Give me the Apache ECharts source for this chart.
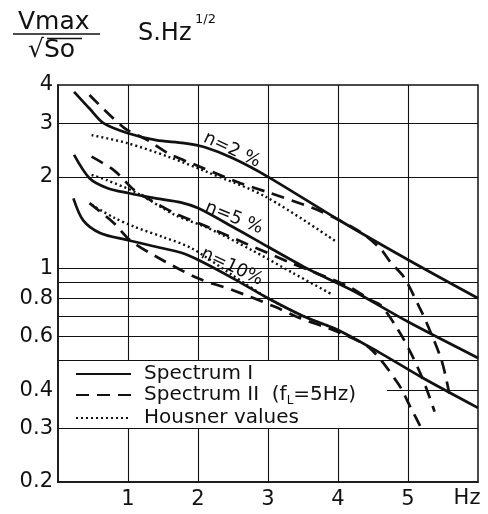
<!DOCTYPE html>
<html>
<head>
<meta charset="utf-8">
<script src="https://cdn.jsdelivr.net/npm/echarts@6/dist/echarts.min.js"></script>
<style>
html, body { margin: 0; padding: 0; background: #fff; }
#chart { width: 488px; height: 514px; }
</style>
</head>
<body>
<div id="chart"></div>
<script>
// axis ticks / grid lines
var xTicks = [1, 2, 3, 4, 5];
var yTicks = [0.2, 0.3, 0.4, 0.6, 0.8, 1, 2, 3, 4];
var yGridLines = [3, 2, 1, 0.9, 0.8, 0.7, 0.6, 0.5, 0.3];

// Spectrum I (solid)
var spec1N2 = [[0.23, 3.8], [0.45, 3.35], [0.65, 3.0], [1.0, 2.78], [1.4, 2.64], [1.8, 2.58], [2.1, 2.5], [2.5, 2.3], [3.0, 2.0], [4.0, 1.45], [5.0, 1.07], [6.0, 0.8]];
var spec1N5 = [[0.23, 2.36], [0.45, 1.98], [0.7, 1.84], [1.0, 1.77], [1.4, 1.7], [1.75, 1.65], [2.0, 1.58], [2.5, 1.37], [3.0, 1.18], [3.6, 0.99], [4.2, 0.85], [5.0, 0.67], [6.0, 0.51]];
var spec1N10 = [[0.22, 1.7], [0.36, 1.44], [0.6, 1.31], [1.0, 1.24], [1.4, 1.18], [1.75, 1.13], [2.0, 1.07], [2.5, 0.93], [3.0, 0.8], [3.5, 0.7], [4.0, 0.63], [4.6, 0.53], [5.2, 0.44], [6.0, 0.35]];

// Spectrum II (fL = 5Hz), dashed
var spec2N2 = [[0.45, 3.71], [0.94, 2.9], [1.28, 2.64], [1.57, 2.39], [1.96, 2.19], [2.6, 1.91], [3.0, 1.78], [3.64, 1.58], [4.0, 1.45], [4.36, 1.3], [4.61, 1.16], [4.75, 1.05], [4.94, 0.94], [5.16, 0.75], [5.26, 0.67], [5.48, 0.5], [5.59, 0.39]];
var spec2N5 = [[0.48, 2.33], [0.8, 2.1], [1.09, 1.81], [1.32, 1.68], [1.67, 1.52], [2.14, 1.37], [2.68, 1.21], [3.35, 1.04], [4.17, 0.87], [4.46, 0.79], [4.61, 0.76], [4.86, 0.63], [5.04, 0.53], [5.22, 0.43], [5.38, 0.34]];
var spec2N10 = [[0.45, 1.64], [0.8, 1.41], [1.03, 1.24], [1.42, 1.09], [2.0, 0.93], [2.5, 0.85], [3.1, 0.75], [3.45, 0.69], [4.0, 0.62], [4.45, 0.55], [4.86, 0.42], [5.04, 0.35], [5.19, 0.3]];

// Housner values, dotted
var housN2 = [[0.48, 2.74], [0.99, 2.58], [1.57, 2.33], [2.14, 2.07], [2.97, 1.72], [3.99, 1.22]];
var housN5 = [[0.48, 2.03], [0.7, 1.95], [1.13, 1.77], [1.67, 1.5], [2.14, 1.36], [2.77, 1.15], [3.35, 0.97], [3.93, 0.82]];
var housN10 = [[0.48, 1.62], [0.8, 1.47], [1.1, 1.37], [1.5, 1.27], [1.9, 1.17], [2.5, 0.95], [3.0, 0.8], [3.5, 0.7], [3.93, 0.64]];

var FONT = 'DejaVu Sans';
var INK = '#111';

var styles = {
    'Spectrum I': { type: 'solid', width: 2.7 },
    'Spectrum II': { type: [13, 8], width: 2.7 },
    'Housner values': { type: [2, 3], width: 2.4 }
};

function curve(name, data) {
    var ls = styles[name];
    return {
        name: name,
        type: 'line',
        data: data,
        symbol: 'none',
        smooth: 0.3,
        z: 5,
        lineStyle: { color: INK, width: ls.width, type: ls.type, cap: 'butt' },
        itemStyle: { color: INK }
    };
}

// grid lines: full horizontals, verticals broken by the legend box
var gridLines = [];
yGridLines.forEach(function (y) {
    gridLines.push([{ coord: [0, y] }, { coord: [6, y] }]);
});
gridLines.push([{ coord: [4.7, 0.4] }, { coord: [6, 0.4] }]);
xTicks.forEach(function (x) {
    if (x < 4.7) {
        gridLines.push([{ coord: [x, 0.2] }, { coord: [x, 0.3] }]);
        gridLines.push([{ coord: [x, 0.5] }, { coord: [x, 4] }]);
    } else {
        gridLines.push([{ coord: [x, 0.2] }, { coord: [x, 4] }]);
    }
});

var chart = echarts.init(document.getElementById('chart'));

var option = {
    backgroundColor: '#fff',
    animation: false,
    grid: { left: 58, right: 10, top: 85, bottom: 32, show: true, borderColor: INK, borderWidth: 1.5 },
    xAxis: {
        type: 'value', min: 0, max: 6, interval: 1,
        splitLine: { show: false },
        axisTick: { show: false },
        axisLine: { lineStyle: { color: INK, width: 1.5 } },
        axisLabel: {
            color: INK, fontFamily: FONT, fontSize: 21, margin: 7,
            formatter: function (v) { return xTicks.indexOf(v) >= 0 ? String(v) : ''; }
        }
    },
    yAxis: {
        type: 'log', logBase: 10, min: 0.2, max: 4,
        splitLine: { show: false },
        axisTick: { show: false },
        axisLine: { lineStyle: { color: INK, width: 1.5 } },
        axisLabel: {
            customValues: yTicks,
            color: INK, fontFamily: FONT, fontSize: 21, margin: 5,
            formatter: function (v) { return String(+v.toFixed(2)); }
        }
    },
    legend: {
        data: ['Spectrum I', 'Spectrum II', 'Housner values'],
        orient: 'vertical',
        left: 70, top: 359,
        itemWidth: 55, itemHeight: 14, itemGap: 1,
        selectedMode: false,
        itemStyle: { opacity: 0 },
        textStyle: {
            color: INK, fontFamily: FONT, fontSize: 20, lineHeight: 20,
            padding: [0, 0, 0, 8],
            rich: {
                sub: { fontFamily: FONT, fontSize: 12, color: INK, padding: [12, 0, 0, 0] }
            }
        },
        formatter: function (n) {
            if (n === 'Spectrum II') return 'Spectrum II  (f{sub|L}=5Hz)';
            return n;
        }
    },
    graphic: [
        { type: 'text', x: 18, y: 22, style: { text: 'Vmax', font: '25px "DejaVu Sans"', fill: INK, verticalAlign: 'middle' } },
        { type: 'line', shape: { x1: 13, y1: 34, x2: 100, y2: 34 }, style: { stroke: INK, lineWidth: 1.6 } },
        { type: 'text', x: 28, y: 50, style: { text: '\u221ASo', font: '25px "DejaVu Sans"', fill: INK, verticalAlign: 'middle' } },
        { type: 'line', shape: { x1: 47, y1: 38.5, x2: 82, y2: 38.5 }, style: { stroke: INK, lineWidth: 1.4 } },
        { type: 'text', x: 138, y: 34, style: { text: 'S.Hz', font: '24px "DejaVu Sans"', fill: INK, verticalAlign: 'middle' } },
        { type: 'text', x: 195, y: 20, style: { text: '1/2', font: '13px "DejaVu Sans"', fill: INK, verticalAlign: 'middle' } },
        { type: 'text', x: 467, y: 499, style: { text: 'Hz', font: '21px "DejaVu Sans"', fill: INK, align: 'center', verticalAlign: 'middle' } },
        { type: 'text', x: 232, y: 150, rotation: -0.44, style: { text: 'n=2 %', font: '18px "DejaVu Sans"', fill: INK, align: 'center', verticalAlign: 'middle' } },
        { type: 'text', x: 234, y: 218, rotation: -0.38, style: { text: 'n=5 %', font: '18px "DejaVu Sans"', fill: INK, align: 'center', verticalAlign: 'middle' } },
        { type: 'text', x: 232, y: 267, rotation: -0.44, style: { text: 'n=10%', font: '18px "DejaVu Sans"', fill: INK, align: 'center', verticalAlign: 'middle' } }
    ],
    series: [
        {
            type: 'line', data: [], silent: true, z: 1,
            markLine: {
                silent: true, symbol: 'none', animation: false,
                label: { show: false },
                lineStyle: { color: INK, width: 1.1, type: 'solid' },
                data: gridLines
            }
        },
        curve('Spectrum I', spec1N2),
        curve('Spectrum I', spec1N5),
        curve('Spectrum I', spec1N10),
        curve('Spectrum II', spec2N2),
        curve('Spectrum II', spec2N5),
        curve('Spectrum II', spec2N10),
        curve('Housner values', housN2),
        curve('Housner values', housN5),
        curve('Housner values', housN10)
    ]
};

chart.setOption(option);
</script>
</body>
</html>
